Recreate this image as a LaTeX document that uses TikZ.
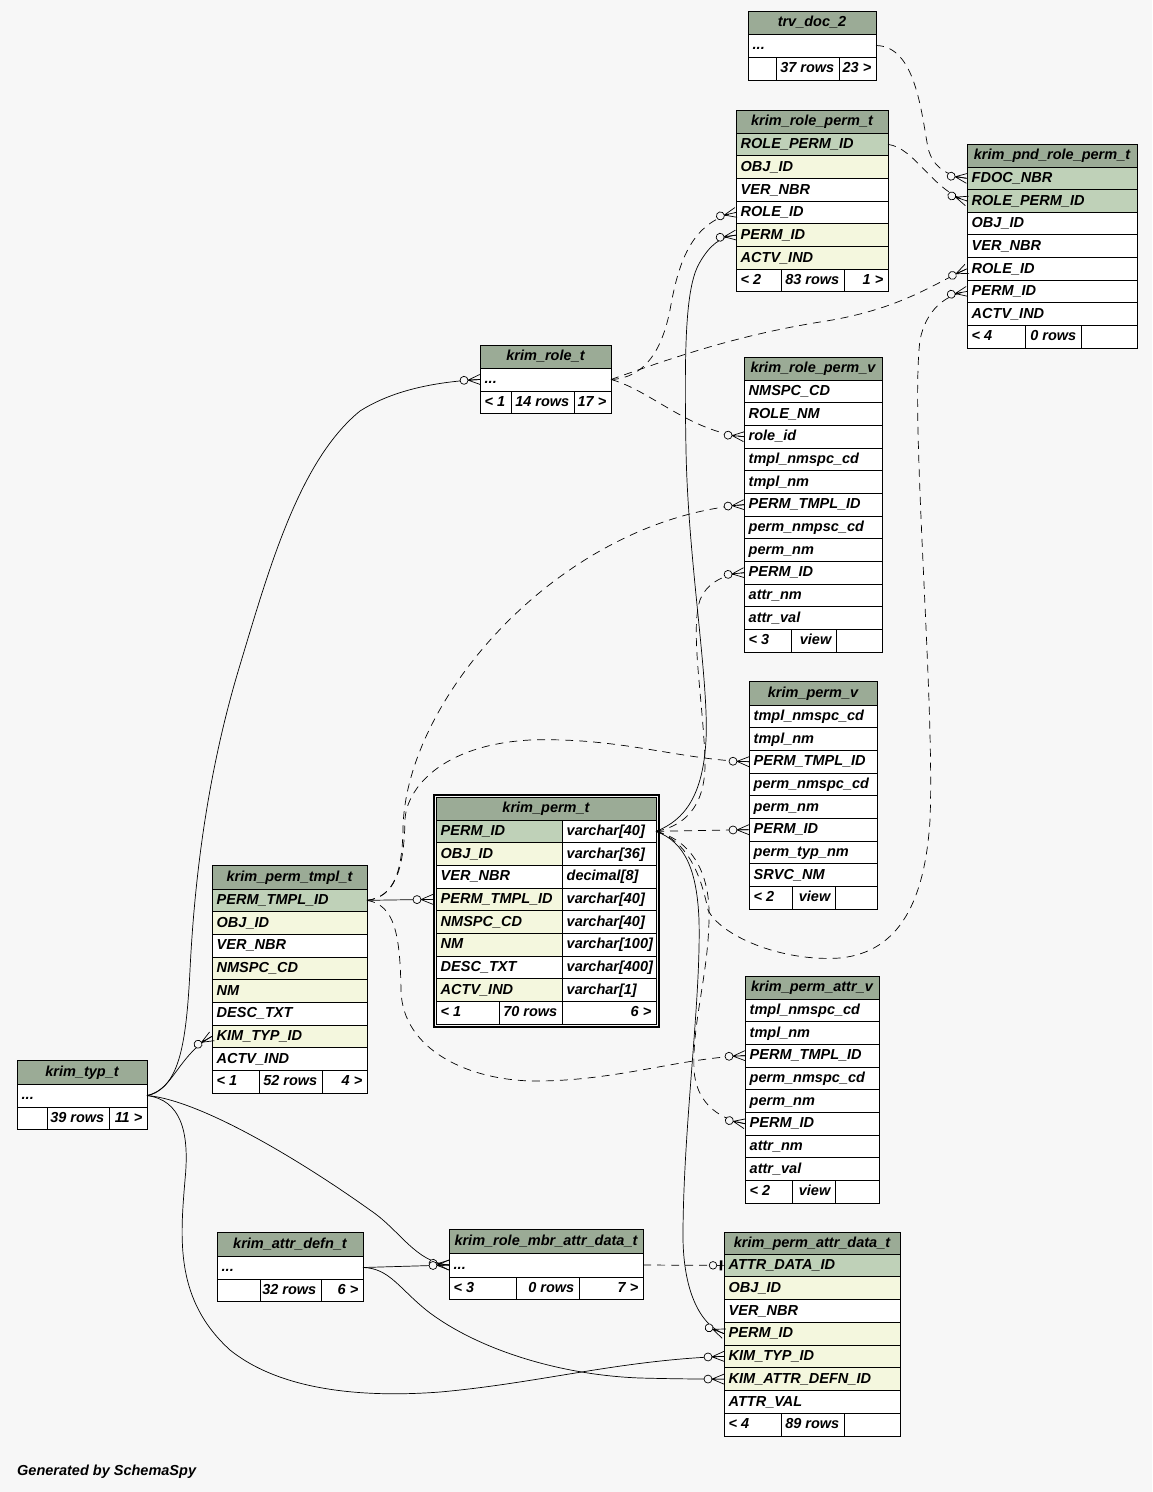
\documentclass[tikz,border=0pt]{standalone}
\usepackage{fontspec}
\setmainfont{Liberation Sans}
\usetikzlibrary{decorations.markings}
\definecolor{bgc}{HTML}{F7F7F7}
\definecolor{hdrc}{HTML}{9BAB96}
\definecolor{pkc}{HTML}{BFD1B8}
\definecolor{idxc}{HTML}{F4F7DE}
\newcommand\tfont{\fontsize{14.5}{17}\selectfont\bfseries\itshape}
\newcommand\cellL[7]{\node[cellbox, fill=#6, minimum width=#4, minimum height=#5] (#1) at (#2,#3) {};\node[celltxt, anchor=west] (#1-t) at ([xshift=4.5pt]#1.west) {#7};}
\newcommand\cellR[7]{\node[cellbox, fill=#6, minimum width=#4, minimum height=#5] (#1) at (#2,#3) {};\node[celltxt, anchor=east] (#1-t) at ([xshift=-4.5pt]#1.east) {#7};}
\newcommand\cellE[5]{\node[cellbox, fill=white, minimum width=#4, minimum height=#5] (#1) at (#2,#3) {};}
\newcommand\hdr[6]{\node[cellbox, fill=hdrc, minimum width=#4, minimum height=#5] (#1) at (#2,#3) {};\node[celltxt] (#1-t) at (#1.center) {#6};}
\newcommand\tbl[6]{\foreach \kk/\ff/\tx [count=\i from 0] in {#6}{\pgfmathsetmacro\yy{#3+\i*#5}\cellL{#1-\kk}{#2}{\yy}{#4}{#5}{\ff}{\tx}}}
% markers are placed 1pt before the end of the path, so they are shifted forward by 1pt
\newcommand\manymark{\draw[solid, line width=0.7pt] (-11pt,0pt) -- (1pt,5pt) (-11pt,0pt) -- (1pt,-5pt) (-11pt,0pt) -- (1pt,0pt); \draw[solid, line width=0.7pt, fill=bgc] (-15pt,0pt) circle (4pt);}
\newcommand\onemark{\draw[solid, line width=0.7pt] (-6pt,0pt) -- (1pt,0pt); \draw[solid, line width=2.5pt] (-2pt,-5pt) -- (-2pt,5pt); \draw[solid, line width=0.7pt, fill=bgc] (-10pt,0pt) circle (3.8pt);}
\begin{document}
\begin{tikzpicture}[x=1pt,y=-1pt,
  cellbox/.style={draw=black, line width=1pt, rectangle, inner sep=0pt, outer sep=0pt, anchor=north west},
  celltxt/.style={inner sep=0pt, font=\tfont, text height=11pt, text depth=2.5pt},
  fk/.style={draw, line width=0.7pt},
  imp/.style={fk, dash pattern=on 8pt off 6pt},
  many/.style={postaction={decorate, decoration={markings, mark=at position -1pt with {\manymark}}}},
  one/.style={postaction={decorate, decoration={markings, mark=at position -1pt with {\onemark}}}}]
\fill[bgc] (0,0) rectangle (1152,1492);
\useasboundingbox (0,0) rectangle (1152,1492);

% trv_doc_2
\hdr{td}{748}{11}{128}{23}{trv\_doc\_2}
\cellL{td-r}{748}{34}{128}{23}{white}{...}
\cellE{td-f1}{748}{57}{28}{23}
\cellR{td-f2}{776}{57}{63}{23}{white}{37 rows}
\cellR{td-f3}{839}{57}{37}{23}{white}{23 >}

% krim_role_perm_t
\hdr{rpt}{736}{110}{152}{23}{krim\_role\_perm\_t}
\tbl{rpt}{736}{133}{152}{22.7}{RPID/pkc/ROLE\_PERM\_ID, OBJ/idxc/OBJ\_ID, VER/white/VER\_NBR, ROLE/white/ROLE\_ID, PERM/idxc/PERM\_ID, ACTV/idxc/ACTV\_IND}
\cellL{rpt-f1}{736}{269.2}{45}{22.7}{white}{< 2}
\cellR{rpt-f2}{781}{269.2}{63}{22.7}{white}{83 rows}
\cellR{rpt-f3}{844}{269.2}{44}{22.7}{white}{1 >}

% krim_pnd_role_perm_t
\hdr{prp}{967}{144}{170}{23}{krim\_pnd\_role\_perm\_t}
\tbl{prp}{967}{167}{170}{22.625}{FDOC/pkc/FDOC\_NBR, RPID/pkc/ROLE\_PERM\_ID, OBJ/white/OBJ\_ID, VER/white/VER\_NBR, ROLE/white/ROLE\_ID, PERM/white/PERM\_ID, ACTV/white/ACTV\_IND}
\cellL{prp-f1}{967}{325.375}{58}{22.625}{white}{< 4}
\cellR{prp-f2}{1025}{325.375}{56}{22.625}{white}{0 rows}
\cellE{prp-f3}{1081}{325.375}{56}{22.625}

% krim_role_t
\hdr{rt}{480}{345}{131}{23}{krim\_role\_t}
\cellL{rt-r}{480}{368}{131}{23}{white}{...}
\cellL{rt-f1}{480}{391}{31}{22}{white}{< 1}
\cellR{rt-f2}{511}{391}{63}{22}{white}{14 rows}
\cellR{rt-f3}{574}{391}{37}{22}{white}{17 >}

% krim_role_perm_v
\hdr{rpv}{744}{357}{138}{23}{krim\_role\_perm\_v}
\tbl{rpv}{744}{380}{138}{22.67}{NMSPC/white/NMSPC\_CD, ROLENM/white/ROLE\_NM, roleid/white/role\_id, tns/white/tmpl\_nmspc\_cd, tnm/white/tmpl\_nm, PTID/white/PERM\_TMPL\_ID, pns/white/perm\_nmpsc\_cd, pnm/white/perm\_nm, PERM/white/PERM\_ID, anm/white/attr\_nm, aval/white/attr\_val}
\cellL{rpv-f1}{744}{629.37}{47}{22.67}{white}{< 3}
\cellR{rpv-f2}{791}{629.37}{45}{22.67}{white}{view}
\cellE{rpv-f3}{836}{629.37}{46}{22.67}

% krim_perm_v
\hdr{pv}{749}{681}{128}{24}{krim\_perm\_v}
\tbl{pv}{749}{705}{128}{22.67}{tns/white/tmpl\_nmspc\_cd, tnm/white/tmpl\_nm, PTID/white/PERM\_TMPL\_ID, pns/white/perm\_nmspc\_cd, pnm/white/perm\_nm, PERM/white/PERM\_ID, ptn/white/perm\_typ\_nm, SRVC/white/SRVC\_NM}
\cellL{pv-f1}{749}{886.36}{43}{22.67}{white}{< 2}
\cellR{pv-f2}{792}{886.36}{43}{22.67}{white}{view}
\cellE{pv-f3}{835}{886.36}{42}{22.67}

% krim_perm_attr_v
\hdr{pav}{745}{976}{134}{23}{krim\_perm\_attr\_v}
\tbl{pav}{745}{999}{134}{22.67}{tns/white/tmpl\_nmspc\_cd, tnm/white/tmpl\_nm, PTID/white/PERM\_TMPL\_ID, pns/white/perm\_nmspc\_cd, pnm/white/perm\_nm, PERM/white/PERM\_ID, anm/white/attr\_nm, aval/white/attr\_val}
\cellL{pav-f1}{745}{1180.36}{47}{22.67}{white}{< 2}
\cellR{pav-f2}{792}{1180.36}{43}{22.67}{white}{view}
\cellE{pav-f3}{835}{1180.36}{44}{22.67}

% krim_perm_attr_data_t
\hdr{pad}{724}{1232}{176}{22}{krim\_perm\_attr\_data\_t}
\tbl{pad}{724}{1254}{176}{22.75}{ADID/pkc/ATTR\_DATA\_ID, OBJ/idxc/OBJ\_ID, VER/white/VER\_NBR, PERM/idxc/PERM\_ID, KTID/idxc/KIM\_TYP\_ID, KADID/idxc/KIM\_ATTR\_DEFN\_ID, AVAL/white/ATTR\_VAL}
\cellL{pad-f1}{724}{1413.25}{57}{22.75}{white}{< 4}
\cellR{pad-f2}{781}{1413.25}{63}{22.75}{white}{89 rows}
\cellE{pad-f3}{844}{1413.25}{56}{22.75}

% krim_role_mbr_attr_data_t
\hdr{rmad}{449}{1229}{194}{24}{krim\_role\_mbr\_attr\_data\_t}
\cellL{rmad-r}{449}{1253}{194}{24}{white}{...}
\cellL{rmad-f1}{449}{1277}{67}{22}{white}{< 3}
\cellR{rmad-f2}{516}{1277}{63}{22}{white}{0 rows}
\cellR{rmad-f3}{579}{1277}{64}{22}{white}{7 >}

% krim_attr_defn_t
\hdr{ad}{217}{1232}{146}{24}{krim\_attr\_defn\_t}
\cellL{ad-r}{217}{1256}{146}{23}{white}{...}
\cellE{ad-f1}{217}{1279}{43}{22}
\cellR{ad-f2}{260}{1279}{61}{22}{white}{32 rows}
\cellR{ad-f3}{321}{1279}{42}{22}{white}{6 >}

% krim_typ_t
\hdr{typ}{17}{1060}{130}{24}{krim\_typ\_t}
\cellL{typ-r}{17}{1084}{130}{23}{white}{...}
\cellE{typ-f1}{17}{1107}{30}{22}
\cellR{typ-f2}{47}{1107}{62}{22}{white}{39 rows}
\cellR{typ-f3}{109}{1107}{38}{22}{white}{11 >}

% krim_perm_tmpl_t
\hdr{ptt}{212}{865}{155}{24}{krim\_perm\_tmpl\_t}
\tbl{ptt}{212}{889}{155}{22.67}{PTID/pkc/PERM\_TMPL\_ID, OBJ/idxc/OBJ\_ID, VER/white/VER\_NBR, NMSPC/idxc/NMSPC\_CD, NM/idxc/NM, DESC/white/DESC\_TXT, KTID/idxc/KIM\_TYP\_ID, ACTV/white/ACTV\_IND}
\cellL{ptt-f1}{212}{1070.36}{47}{22.67}{white}{< 1}
\cellR{ptt-f2}{259}{1070.36}{63}{22.67}{white}{52 rows}
\cellR{ptt-f3}{322}{1070.36}{45}{22.67}{white}{4 >}

% krim_perm_t
\draw[line width=2pt] (433.5,794.5) rectangle (658.5,1026.5);
\hdr{pt}{436}{797}{220}{23}{krim\_perm\_t}
\foreach \kk/\ff/\tx/\vv [count=\i from 0] in {PERMID/pkc/PERM\_ID/varchar[40], OBJ/idxc/OBJ\_ID/varchar[36], VER/white/VER\_NBR/decimal[8], PTID/idxc/PERM\_TMPL\_ID/varchar[40], NMSPC/idxc/NMSPC\_CD/varchar[40], NM/idxc/NM/varchar[100], DESC/white/DESC\_TXT/varchar[400], ACTV/idxc/ACTV\_IND/varchar[1]}{%
  \pgfmathsetmacro\yy{820+\i*22.67}
  \cellL{pt-\kk}{436}{\yy}{126}{22.67}{\ff}{\tx}
  \cellL{pt-\kk-v}{562}{\yy}{94}{22.67}{white}{\vv}}
\cellL{pt-f1}{436}{1001.36}{63}{22.67}{white}{< 1}
\cellR{pt-f2}{499}{1001.36}{63}{22.67}{white}{70 rows}
\cellR{pt-f3}{562}{1001.36}{94}{22.67}{white}{6 >}

% connectors
\draw[imp, many] (td-r.east) .. controls (915,46) and (921,110) .. (928,148) .. controls (933,168) and (948,176) .. (prp-FDOC.west);
\draw[imp, many] (rpt-RPID.east) .. controls (915,148) and (932,190) .. (prp-RPID.west);
\draw[imp, many] (rt-r.east) .. controls (645,378) and (662,350) .. (670,310) .. controls (678,265) and (690,222) .. (rpt-ROLE.west);
\draw[imp, many] (rt-r.east) .. controls (680,355) and (740,335) .. (820,322) .. controls (900,310) and (935,283) .. (prp-ROLE.west);
\draw[imp, many] (rt-r.east) .. controls (650,390) and (690,432) .. (rpv-roleid.west);
\draw[fk, many] (pt-PERMID-v.east) .. controls (685,820) and (703,795) .. (706,740) .. controls (709,680) and (688,560) .. (686,450) .. controls (684,340) and (686,285) .. (700,262) .. controls (710,245) and (720,237) .. (rpt-PERM.west);
\draw[imp, many] (pt-PERMID-v.east) .. controls (685,840) and (700,870) .. (708,910) .. controls (720,935) and (780,962) .. (840,958) .. controls (900,952) and (925,900) .. (930,820) .. controls (935,700) and (910,420) .. (920,340) .. controls (926,310) and (945,295) .. (prp-PERM.west);
\draw[imp, many] (pt-PERMID-v.east) .. controls (690,825) and (706,800) .. (705,760) .. controls (703,700) and (690,630) .. (700,600) .. controls (706,585) and (720,575) .. (rpv-PERM.west);
\draw[imp, many] (pt-PERMID-v.east) -- (pv-PERM.west);
\draw[imp, many] (pt-PERMID-v.east) .. controls (690,840) and (708,870) .. (709,910) .. controls (710,970) and (692,1020) .. (694,1070) .. controls (696,1100) and (715,1118) .. (pav-PERM.west);
\draw[fk, many] (pt-PERMID-v.east) .. controls (685,842) and (697,870) .. (699,920) .. controls (701,1000) and (684,1120) .. (683,1230) .. controls (682,1290) and (700,1325) .. (pad-PERM.west);
\draw[fk, many] (ptt-PTID.east) -- ([xshift=-3pt]pt-PTID.west);
\draw[imp, many] (ptt-PTID.east) .. controls (395,897) and (402,870) .. (403,830) .. controls (404,700) and (560,520) .. (rpv-PTID.west);
\draw[imp, many] (ptt-PTID.east) .. controls (395,897) and (404,870) .. (405,820) .. controls (406,790) and (440,745) .. (530,740) .. controls (620,737) and (680,760) .. (pv-PTID.west);
\draw[imp, many] (ptt-PTID.east) .. controls (395,905) and (400,935) .. (401,990) .. controls (402,1050) and (470,1082) .. (540,1081) .. controls (620,1080) and (680,1058) .. (pav-PTID.west);
\draw[fk, many] (typ-r.east) .. controls (172,1092) and (178,1055) .. (ptt-KTID.west);
\draw[fk, many] (typ-r.east) .. controls (178,1088) and (186,1050) .. (190,970) .. controls (194,890) and (205,780) .. (240,665) .. controls (270,565) and (300,460) .. (360,411) .. controls (390,392) and (430,382) .. (rt-r.west);
\draw[fk, many] (typ-r.east) .. controls (200,1100) and (300,1160) .. (370,1210) .. controls (400,1230) and (415,1262) .. (rmad-r.west);
\draw[fk, many] (ad-r.east) -- (rmad-r.west);
\draw[fk, many] (typ-r.east) .. controls (180,1100) and (190,1130) .. (185,1180) .. controls (180,1240) and (175,1300) .. (230,1350) .. controls (280,1390) and (360,1398) .. (440,1392) .. controls (540,1383) and (620,1360) .. (pad-KTID.west);
\draw[fk, many] (ad-r.east) .. controls (390,1268) and (400,1290) .. (430,1313) .. controls (480,1350) and (560,1375) .. (640,1378) .. controls (680,1379) and (700,1379) .. (pad-KADID.west);
\draw[imp, one] (rmad-r.east) -- (pad-ADID.west);

\node[celltxt, anchor=west] (gen) at (17,1471) {Generated by SchemaSpy};
\end{tikzpicture}
\end{document}
